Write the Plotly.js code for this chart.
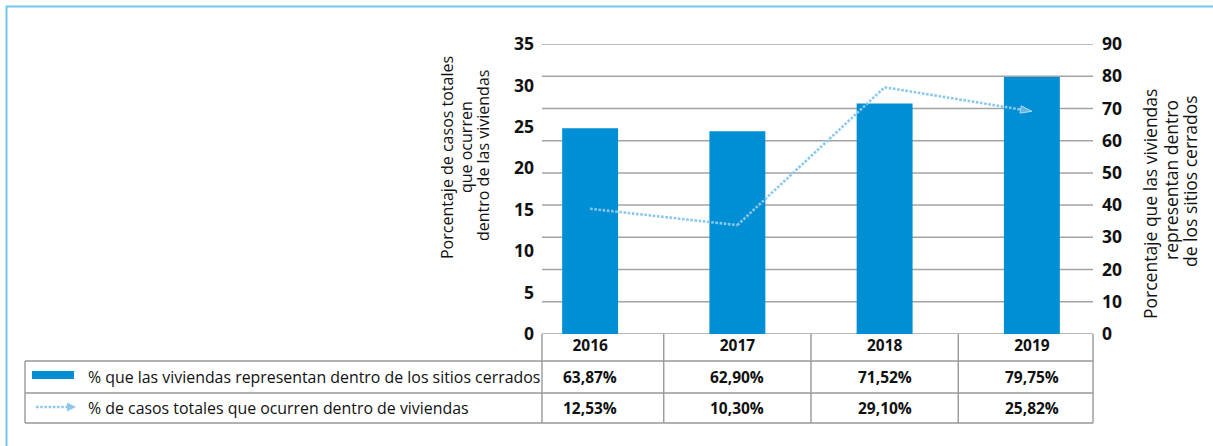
<!DOCTYPE html>
<html><head><meta charset="utf-8">
<script src="https://cdn.plot.ly/plotly-3.0.1.min.js"></script>
<style>html,body{margin:0;padding:0;background:#fff}#chart{width:1213px;height:446px}</style>
</head><body><div id="chart"></div>
<script>
// ---- data ----
const categories = ['2016', '2017', '2018', '2019'];
const viviendasPct = [63.87, 62.90, 71.52, 79.75];   // bars, right axis
const casosPct = [12.53, 10.30, 29.10, 25.82];       // dotted line
const seriesLabels = [
  '% que las viviendas representan dentro de los sitios cerrados',
  '% de casos totales que ocurren dentro de viviendas'
];
const leftTicks = [0, 5, 10, 15, 20, 25, 30, 35];
const rightTicks = [0, 10, 20, 30, 40, 50, 60, 70, 80, 90];
const leftTitle = ['Porcentaje de casos totales', 'que ocurren', 'dentro de las viviendas'];
const rightTitle = ['Porcentaje que las viviendas', 'representan dentro', 'de los sitios cerrados'];

// ---- style ----
const W = 1213, H = 446;
const px = v => v / W;
const py = v => 1 - v / H;
const BAR = '#008ed4';
const LINE = '#8cc8ee';
const GRID = '#a3a3a3';
const BORDER = '#999999';
const FRAME = '#78c3ea';
const TXT = '#111111';
const FONT = 'Open Sans, Noto Sans, sans-serif';

const plotTop = 44, plotBot = 334, plotL = 542, plotR = 1093;
const catL = 516.5, catR = 1105.5;
const row1Top = 361, row2Top = 393, tblBot = 423, tblL = 25;
const fmt = v => v.toFixed(2).replace('.', ',') + '%';

const traces = [
  {
    type: 'bar', x: categories, y: viviendasPct, xaxis: 'x', yaxis: 'y',
    width: 0.38, marker: {color: BAR}, hoverinfo: 'skip'
  },
  {
    type: 'scatter', mode: 'lines+markers', x: categories, y: casosPct, xaxis: 'x', yaxis: 'y2',
    line: {color: LINE, width: 2.6, dash: '2.6px,1.6px'},
    marker: {symbol: 'arrow', angleref: 'previous', size: [0, 0, 0, 12], color: LINE},
    hoverinfo: 'skip'
  },
  // draws nothing: only registers the left (labelled) axis
  {type: 'scatter', mode: 'none', x: categories, y: casosPct, xaxis: 'x', yaxis: 'y3', hoverinfo: 'skip'}
];

const shapes = [];
// gridlines (right axis)
rightTicks.forEach(v => shapes.push({
  type: 'line', xref: 'paper', yref: 'y', x0: px(plotL), x1: px(plotR), y0: v, y1: v,
  line: {color: GRID, width: 1.5}, layer: 'below'
}));
// table horizontal borders
[row1Top, row2Top, tblBot].forEach(y => shapes.push({
  type: 'line', xref: 'paper', yref: 'paper', x0: px(tblL), x1: px(plotR), y0: py(y), y1: py(y),
  line: {color: BORDER, width: 1.4}
}));
// table vertical borders
shapes.push({type: 'line', xref: 'paper', yref: 'paper', x0: px(tblL), x1: px(tblL), y0: py(row1Top), y1: py(tblBot), line: {color: BORDER, width: 1.4}});
[plotL, plotR].forEach(x => shapes.push({
  type: 'line', xref: 'paper', yref: 'paper', x0: px(x), x1: px(x), y0: py(plotBot), y1: py(tblBot),
  line: {color: BORDER, width: 1.4}
}));
for (let i = 0; i < categories.length - 1; i++) {
  shapes.push({type: 'line', xref: 'x', yref: 'paper', x0: i + 0.5, x1: i + 0.5, y0: py(plotBot), y1: py(tblBot), line: {color: BORDER, width: 1.4}});
}
// legend keys
shapes.push({type: 'rect', xref: 'paper', yref: 'paper', x0: px(32), x1: px(74), y0: py(379), y1: py(371), fillcolor: BAR, line: {width: 0}});
shapes.push({type: 'line', xref: 'paper', yref: 'paper', x0: px(36), x1: px(68), y0: py(407), y1: py(407), line: {color: LINE, width: 2.6, dash: '2.6px,1.6px'}});
shapes.push({type: 'path', xref: 'paper', yref: 'paper',
  path: `M${px(67)},${py(402.5)} L${px(76)},${py(407)} L${px(67)},${py(411.5)} Z`,
  fillcolor: LINE, line: {width: 0}});
// frame
shapes.push({type: 'line', xref: 'paper', yref: 'paper', x0: px(6.5), x1: px(6.5), y0: py(6), y1: 0, line: {color: FRAME, width: 2}});
shapes.push({type: 'line', xref: 'paper', yref: 'paper', x0: px(6), x1: 1, y0: py(6.5), y1: py(6.5), line: {color: FRAME, width: 2}});

const annotations = [];
const lt = [[447, 158], [466, 147], [483, 156]];
leftTitle.forEach((t, i) => annotations.push({
  text: t, xref: 'paper', yref: 'paper', x: px(lt[i][0]), y: py(lt[i][1]), textangle: -90,
  showarrow: false, xanchor: 'center', yanchor: 'middle', font: {family: FONT, size: 16, color: TXT}
}));
const rt = [[1150, 204], [1171, 180], [1190, 181]];
rightTitle.forEach((t, i) => annotations.push({
  text: t, xref: 'paper', yref: 'paper', x: px(rt[i][0]), y: py(rt[i][1]), textangle: -90,
  showarrow: false, xanchor: 'center', yanchor: 'middle', font: {family: FONT, size: 17.5, color: TXT}
}));
const rowY = [(row1Top + row2Top) / 2, (row2Top + tblBot) / 2];
seriesLabels.forEach((t, i) => annotations.push({
  text: t, xref: 'paper', yref: 'paper', x: px(86), y: py(rowY[i]), showarrow: false,
  xanchor: 'left', yanchor: 'middle', font: {family: FONT, size: 15.9, color: TXT}
}));
[viviendasPct, casosPct].forEach((arr, r) => arr.forEach((v, i) => annotations.push({
  text: fmt(v), xref: 'x', yref: 'paper', x: i, y: py(rowY[r]), showarrow: false,
  xanchor: 'center', yanchor: 'middle', font: {family: FONT, size: 15.5, color: TXT, weight: 'bold'}
})));

const tickFont = {family: FONT, size: 17.5, color: TXT, weight: 'bold'};
const layout = {
  width: W, height: H, margin: {l: 0, r: 0, t: 0, b: 0},
  paper_bgcolor: '#fff', plot_bgcolor: 'rgba(0,0,0,0)', showlegend: false,
  xaxis: {
    type: 'category', domain: [px(catL), px(catR)], range: [-0.5, 3.5], anchor: 'y',
    showgrid: false, zeroline: false, showline: false, ticks: '',
    tickfont: {family: FONT, size: 15.5, color: TXT, weight: 'bold'}, fixedrange: true
  },
  yaxis: {
    domain: [py(plotBot), py(plotTop)], range: [0, 90], tickvals: rightTicks,
    anchor: 'free', position: px(plotR), side: 'right',
    showgrid: false, zeroline: false, showline: false, ticks: '', ticklabelstandoff: 8,
    tickfont: tickFont, fixedrange: true
  },
  yaxis2: {overlaying: 'y', range: [-4.55, 35], visible: false, fixedrange: true},
  yaxis3: {
    overlaying: 'y', range: [0, 35], tickvals: leftTicks, anchor: 'free', position: px(plotL), side: 'left',
    showgrid: false, zeroline: false, showline: false, ticks: '', ticklabelstandoff: 8,
    tickfont: tickFont, fixedrange: true
  },
  shapes: shapes, annotations: annotations
};

Plotly.newPlot('chart', traces, layout, {displayModeBar: false, staticPlot: true});
</script>
</body></html>
